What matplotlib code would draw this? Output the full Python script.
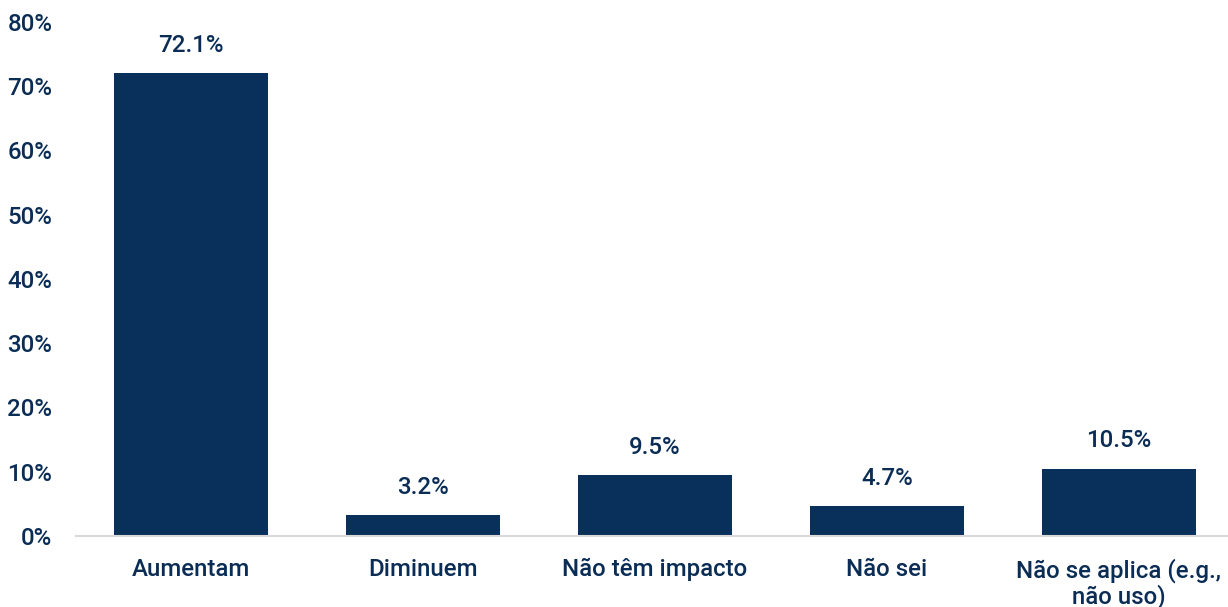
import matplotlib.pyplot as plt

categories = ["Aumentam", "Diminuem", "Não têm impacto", "Não sei", "Não se aplica (e.g.,\nnão uso)"]
values = [72.1, 3.2, 9.5, 4.7, 10.5]
yticks = [0, 10, 20, 30, 40, 50, 60, 70, 80]

navy = "#08305A"
text_col = "#0B2D55"
fs = 17.3

plt.rcParams['font.family'] = ['Roboto', 'DejaVu Sans']

fig = plt.figure(figsize=(12.28, 6.07), dpi=100)
ax = fig.add_axes([76 / 1228, 71 / 607, 1 - 76 / 1228, (536 - 22) / 607])

x = list(range(len(categories)))
ax.bar(x, values, width=0.664, color=navy, zorder=2)

for xi, v in zip(x, values):
    ax.text(xi, v + 2.5, f"{v:.1f}%", ha='center', va='bottom',
            fontsize=fs, color=text_col, fontweight='medium')

ax.set_xlim(-0.496, 4.47)
ax.set_ylim(0, 80)
ax.set_yticks(yticks)
ax.set_yticklabels([f"{t}%" for t in yticks])
ax.set_xticks(x)
ax.set_xticklabels(categories, linespacing=1.05)

for s in ['top', 'right', 'left']:
    ax.spines[s].set_visible(False)
ax.spines['bottom'].set_color('#D9D9D9')
ax.spines['bottom'].set_linewidth(1.5)

ax.tick_params(axis='y', length=0, pad=17, labelsize=fs, labelcolor=text_col)
ax.tick_params(axis='x', length=0, pad=16, labelsize=fs, labelcolor=text_col)
for lab in ax.get_xticklabels() + ax.get_yticklabels():
    lab.set_fontweight('medium')

fig.savefig("out.png", dpi=100)
